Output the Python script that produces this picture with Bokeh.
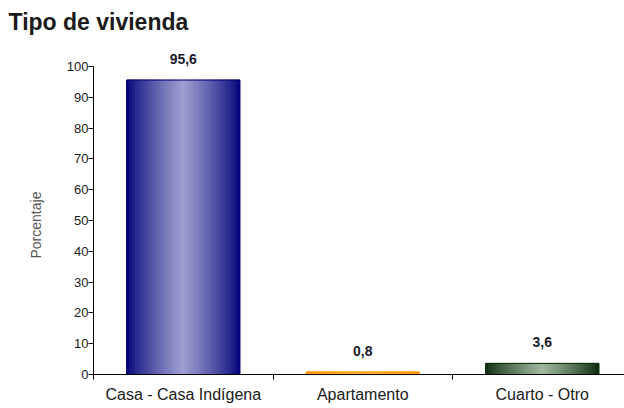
from bokeh.plotting import figure
from bokeh.models import Range1d, FixedTicker, ColumnDataSource, LabelSet, Title
from bokeh.core.properties import value
from bokeh.embed import file_html
from bokeh.resources import INLINE

title_text = "Tipo de vivienda"
y_label = "Porcentaje"
categories = ["Casa - Casa Indígena", "Apartamento", "Cuarto - Otro"]
values = [95.6, 0.8, 3.6]
value_labels = ["95,6", "0,8", "3,6"]
y_ticks = [0, 10, 20, 30, 40, 50, 60, 70, 80, 90, 100]
edge_colors = [(0, 0, 120), (255, 145, 0), (10, 40, 10)]
center_colors = [(160, 160, 210), (255, 180, 60), (160, 185, 160)]
outline_colors = ["#000078", "#ff9100", "#0a280a"]

FONT = "Liberation Sans"
BAR_W = 0.63
N_SLICES = 40

W, H = 624, 408
LEFT, TOP, BOTTOM = 93, 38, 34
frame_h = H - TOP - BOTTOM
y_end = 100 * frame_h / 308.0
x_end = -0.5 + (W - LEFT) / 179.5

p = figure(width=W, height=H, output_backend="svg", toolbar_location=None,
           x_range=Range1d(-0.5, x_end), y_range=Range1d(0, y_end),
           min_border_left=LEFT, min_border_right=0, min_border_bottom=BOTTOM,
           min_border_top=TOP)
p.outline_line_color = None
p.grid.grid_line_color = None
p.background_fill_color = "white"

# gradient bars built as vertical slices
xs, tops, ws, cols = [], [], [], []
for i, v in enumerate(values):
    e, c = edge_colors[i], center_colors[i]
    for k in range(N_SLICES):
        f = (k + 0.5) / N_SLICES
        t = 1 - abs(2 * f - 1)
        t = t ** 0.8
        col = tuple(int(round(e[j] + (c[j] - e[j]) * t)) for j in range(3))
        xs.append(i - BAR_W / 2 + f * BAR_W)
        tops.append(v)
        ws.append(BAR_W / N_SLICES)
        cols.append("#%02x%02x%02x" % col)
p.vbar(x=xs, top=tops, width=ws, bottom=0, fill_color=cols, line_color=cols,
       line_width=1)
p.vbar(x=list(range(len(values))), top=values, width=BAR_W, bottom=0,
       fill_color=None, line_color=outline_colors, line_width=1)

src = ColumnDataSource(dict(x=list(range(len(values))), y=values, t=value_labels))
labels = LabelSet(x="x", y="y", text="t", source=src, text_align="center",
                  text_baseline="bottom", y_offset=16, text_font=value(FONT),
                  text_font_size="14px", text_font_style="bold",
                  text_color="#1a1a2a")
p.add_layout(labels)

# title
p.title.text = title_text
p.title.text_font = FONT
p.title.text_font_size = "23px"
p.title.text_font_style = "bold"
p.title.text_color = "#1a1a1a"
p.title.align = "left"
p.title.offset = -(LEFT - 8)
p.title.standoff = 8

# y axis label as a side title so it can be placed along the 0-100 span
ylab = Title(text=y_label, align="left", offset=116, standoff=40,
             text_font=FONT, text_font_size="14px", text_font_style="normal",
             text_color="#555555")
p.add_layout(ylab, "left")

# x axis
xa = p.xaxis[0]
xa.ticker = FixedTicker(ticks=list(range(len(categories))),
                        minor_ticks=[i - 0.5 for i in range(len(categories) + 1)])
xa.major_label_overrides = {i: c for i, c in enumerate(categories)}
xa.major_tick_out = 0
xa.major_tick_in = 0
xa.minor_tick_out = 5
xa.minor_tick_in = 0
xa.minor_tick_line_color = "black"
xa.axis_line_color = "black"
xa.major_label_text_font = FONT
xa.major_label_text_font_size = "16px"
xa.major_label_text_color = "#1a1a1a"
xa.major_label_standoff = 6

# y axis
ya = p.yaxis[0]
ya.ticker = FixedTicker(ticks=y_ticks)
ya.bounds = (y_ticks[0], y_ticks[-1])
ya.major_tick_out = 5
ya.major_tick_in = 0
ya.minor_tick_line_color = None
ya.axis_line_color = "black"
ya.major_label_text_font = FONT
ya.major_label_text_font_size = "13px"
ya.major_label_text_color = "#1a1a1a"
ya.major_label_standoff = 0

open("out.html", "w").write(file_html(p, INLINE))
